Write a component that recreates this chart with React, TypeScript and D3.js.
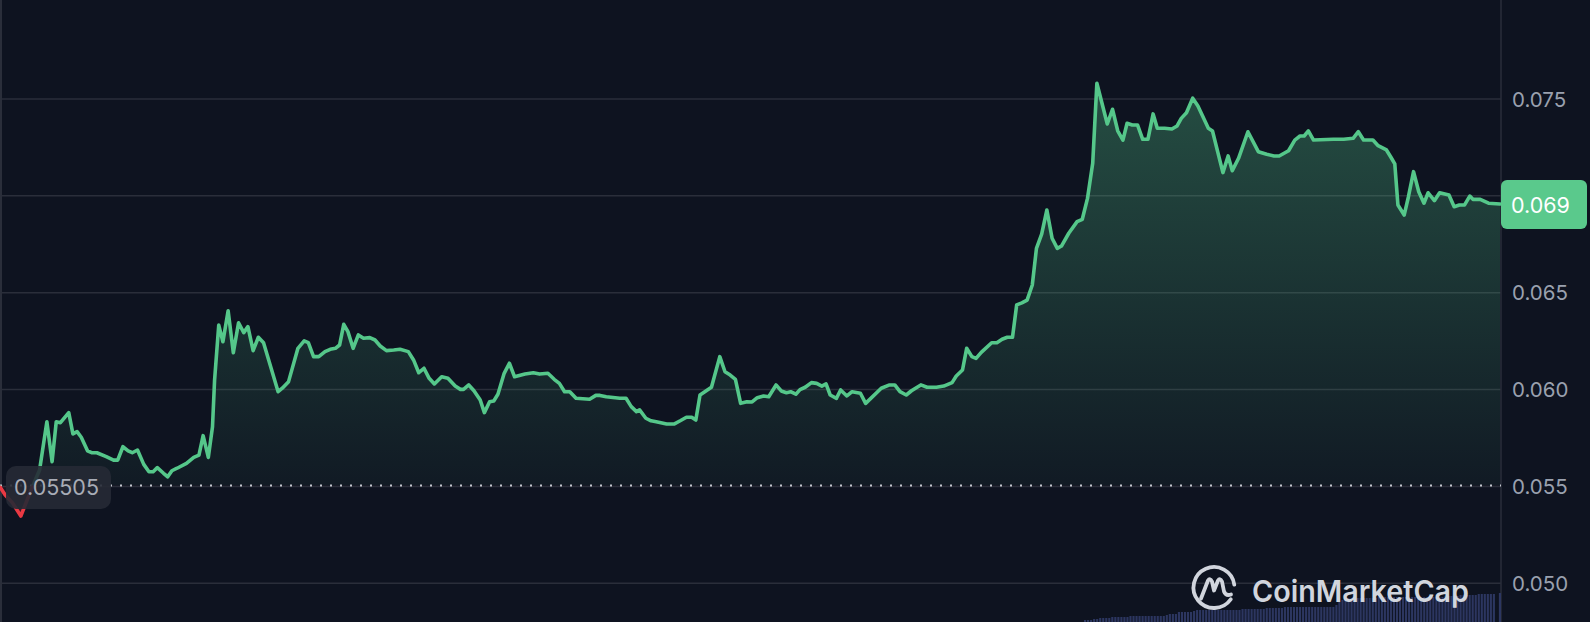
import React from "react";
import * as d3 from "d3";

// time of each sample, minutes since start of the 24h window
const minutes = [
  0, 5, 12, 20, 29, 38, 45, 50, 54, 58, 66, 70, 74, 78, 84, 88, 93, 102, 109, 113,
  118, 123, 127, 132, 138, 143, 147, 151, 157, 161, 165, 170, 179, 186, 191, 195, 200, 204, 206, 210,
  214, 219, 224, 229, 234, 238, 243, 248, 253, 267, 271, 277, 286, 292, 296, 301, 306, 312, 317, 322,
  326, 330, 334, 339, 344, 349, 355, 360, 365, 371, 378, 384, 392, 397, 402, 407, 412, 417, 424, 430,
  437, 442, 445, 450, 455, 461, 465, 470, 474, 478, 484, 489, 494, 504, 512, 518, 526, 532, 537, 542,
  547, 553, 566, 572, 576, 582, 595, 601, 606, 611, 614, 620, 625, 630, 640, 647, 653, 659, 664, 668,
  672, 678, 683, 691, 696, 701, 706, 711, 717, 722, 727, 733, 738, 745, 750, 755, 759, 764, 768, 773,
  779, 784, 789, 793, 797, 803, 807, 813, 818, 826, 831, 846, 854, 859, 864, 870, 875, 884, 890, 899,
  906, 914, 918, 924, 928, 933, 937, 942, 952, 957, 962, 967, 972, 976, 981, 986, 991, 995, 1000, 1005,
  1010, 1015, 1019, 1026, 1034, 1039, 1044, 1049, 1053, 1063, 1068, 1073, 1078, 1082, 1087, 1092, 1097, 1102, 1107, 1111,
  1118, 1125, 1130, 1134, 1139, 1145, 1150, 1160, 1164, 1174, 1179, 1183, 1189, 1198, 1208, 1216, 1223, 1228, 1237, 1243,
  1248, 1252, 1256, 1261, 1280, 1290, 1299, 1304, 1309, 1318, 1323, 1331, 1335, 1339, 1342, 1348, 1352, 1357, 1362, 1367,
  1371, 1377, 1382, 1391, 1396, 1401, 1406, 1411, 1414, 1421, 1429, 1440,
];

const prices = [
  0.05497, 0.05456, 0.05415, 0.05347, 0.05471, 0.05585, 0.05834, 0.05628, 0.05834, 0.05829,
  0.05881, 0.05771, 0.05783, 0.05754, 0.05684, 0.05674, 0.05674, 0.05654, 0.05636, 0.05636,
  0.05705, 0.05684, 0.05674, 0.05688, 0.05614, 0.05576, 0.05576, 0.05597, 0.05568, 0.0555,
  0.05581, 0.05594, 0.05619, 0.0565, 0.05662, 0.05762, 0.0565, 0.05808, 0.06049, 0.06333,
  0.06247, 0.06407, 0.0619, 0.06345, 0.06294, 0.06325, 0.06201, 0.0627, 0.06242, 0.05989,
  0.06007, 0.06041, 0.06213, 0.06251, 0.06242, 0.0617, 0.0617, 0.06196, 0.06208, 0.06213,
  0.0623, 0.06337, 0.06299, 0.06213, 0.06282, 0.06265, 0.06268, 0.06256, 0.06225, 0.06201,
  0.06204, 0.06208, 0.06196, 0.06153, 0.06087, 0.0611, 0.06058, 0.06029, 0.06066, 0.06058,
  0.06018, 0.06001, 0.06001, 0.06024, 0.05994, 0.05946, 0.05881, 0.05937, 0.05941, 0.05976,
  0.06084, 0.06136, 0.06066, 0.0608, 0.06087, 0.0608, 0.06084, 0.06053, 0.06032, 0.05989,
  0.05989, 0.05955, 0.0595, 0.0597, 0.0597, 0.05963, 0.05955, 0.05955, 0.05912, 0.05886,
  0.05895, 0.05852, 0.05839, 0.05834, 0.05822, 0.05822, 0.05839, 0.05857, 0.05857, 0.05843,
  0.05972, 0.05994, 0.06012, 0.0617, 0.06092, 0.06075, 0.06053, 0.05929, 0.05937, 0.05936,
  0.05958, 0.05967, 0.05963, 0.06024, 0.05993, 0.05984, 0.05989, 0.05976, 0.06, 0.06012,
  0.06036, 0.06032, 0.06018, 0.06029, 0.05972, 0.05955, 0.05998, 0.05967, 0.05989, 0.05981,
  0.05929, 0.06007, 0.06024, 0.06024, 0.05989, 0.05972, 0.05994, 0.06024, 0.06012, 0.06012,
  0.06018, 0.06036, 0.0607, 0.06101, 0.06213, 0.0617, 0.06161, 0.06192, 0.06242, 0.06242,
  0.0626, 0.0627, 0.0627, 0.06437, 0.06448, 0.06462, 0.0654, 0.06729, 0.06803, 0.06927,
  0.06781, 0.06729, 0.06741, 0.06807, 0.06867, 0.06879, 0.06987, 0.07168, 0.07581, 0.07371,
  0.07447, 0.07336, 0.07288, 0.07375, 0.07366, 0.07366, 0.07292, 0.07292, 0.07423, 0.07349,
  0.07349, 0.07345, 0.07361, 0.074, 0.07429, 0.07504, 0.07464, 0.07349, 0.07335, 0.0712,
  0.07206, 0.0713, 0.07194, 0.07331, 0.07228, 0.07215, 0.07206, 0.07206, 0.07233, 0.07288,
  0.07309, 0.07309, 0.07335, 0.07288, 0.07292, 0.07292, 0.07297, 0.07331, 0.07288, 0.07288,
  0.07259, 0.07237, 0.07202, 0.07165, 0.06953, 0.06901, 0.06993, 0.07125, 0.07021, 0.06962,
  0.07016, 0.06975, 0.07016, 0.07004, 0.06944, 0.06953, 0.06953, 0.06999, 0.06982, 0.06982,
  0.06962, 0.06958,
];

const baselinePrice = 0.05505;
const baselineLabel = "0.05505";
const lastPriceLabel = "0.069";
const yTicks = [0.05, 0.055, 0.06, 0.065, 0.07, 0.075];
const brandName = "CoinMarketCap";

// trading volume bars (arbitrary units) along the bottom right
const volumes = [
  2, 2, 2, 3, 3,
  4, 4, 4, 4, 5, 5, 5,
  5, 5, 5, 6, 6, 6, 6, 6, 6, 6, 6, 6, 6, 6, 6, 7,
  8, 8, 8,
  10, 10, 10, 10, 10, 11,
  12, 12, 12, 12, 12, 12, 12, 12, 12, 12, 12, 12, 12, 12, 12,
  13, 13, 13, 13, 13, 13, 13, 13,
  14, 14, 14, 14, 14, 14,
  15, 15, 15, 15, 15, 15, 15, 15, 15, 15, 15, 15, 15, 15, 15, 15, 15,
  17, 20, 22,
  24, 24, 24, 24, 24, 24, 24, 24, 24, 24, 24, 25, 25, 25, 25, 25, 25, 25, 25, 25, 25, 25,
  25, 25, 25, 25, 25, 25, 25, 25, 25, 25, 25,
  26, 26, 26, 26, 26, 27, 27, 27, 27, 27, 27, 28, 28, 28, 28, 28, 28,
  0, 29,
];

const W = 1590;
const H = 622;
const plotRight = 1501;
const BG = "#0e1320";
const GRID = "#2a2e3a";
const GREEN = "#55c78a";
const RED = "#ea3943";
const FONT = "Inter, 'Noto Sans', sans-serif";

export default function App() {
  const x = d3.scaleLinear().domain([0, 1440]).range([0, 1500]);
  const y = d3.scaleLinear().domain([0.05, 0.075]).range([583.3, 99]);
  const data = minutes.map((m, i) => ({ m, p: prices[i] }));
  const by = y(baselinePrice);

  const line = d3
    .line<{ m: number; p: number }>()
    .x((d) => x(d.m))
    .y((d) => y(d.p));
  const area = d3
    .area<{ m: number; p: number }>()
    .x((d) => x(d.m))
    .y0(by)
    .y1((d) => y(d.p));

  const vx = d3
    .scaleBand<number>()
    .domain(volumes.map((_, i) => i))
    .range([1084, plotRight])
    .paddingInner(0.3);
  const vy = d3.scaleLinear().domain([0, 30]).range([H, H - 30]);

  const fmt = d3.format(".3f");
  const lastY = y(prices[prices.length - 1]);
  const tagTop = lastY - 24;
  const tagH = 49;
  const linePath = line(data) || "";
  const areaPath = area(data) || "";

  // axis labels hidden behind the last-price tag (as the chart does)
  const visibleTicks = yTicks.filter((t) => Math.abs(y(t) - lastY) > 30);

  // logo geometry
  const lcx = 1214;
  const lcy = 587.5;
  const lr = 20.5;
  const a0 = (35 * Math.PI) / 180;
  const a1 = (-8 * Math.PI) / 180;
  const arcPath = `M${lcx + lr * Math.cos(a0)},${lcy + lr * Math.sin(a0)} A${lr},${lr} 0 1 1 ${
    lcx + lr * Math.cos(a1)
  },${lcy + lr * Math.sin(a1)}`;
  const mPath = `M${lcx - 13},${lcy + 11} L${lcx - 6},${lcy - 7} Q${lcx - 4},${lcy - 10} ${lcx - 2},${
    lcy - 6
  } L${lcx},${lcy + 3} L${lcx + 4},${lcy - 7} Q${lcx + 6},${lcy - 10} ${lcx + 8},${lcy - 6} L${lcx + 10},${
    lcy + 4
  } Q${lcx + 12},${lcy + 9} ${lcx + 17},${lcy + 7}`;

  return (
    <svg
      width={W}
      height={H}
      style={{ position: "fixed", left: 0, top: 0, display: "block", background: BG }}
    >
      <defs>
        <linearGradient id="gFill" gradientUnits="userSpaceOnUse" x1={0} y1={80} x2={0} y2={by}>
          <stop offset="0%" stopColor={GREEN} stopOpacity={0.33} />
          <stop offset="100%" stopColor={GREEN} stopOpacity={0.04} />
        </linearGradient>
        <linearGradient id="rFill" gradientUnits="userSpaceOnUse" x1={0} y1={by} x2={0} y2={by + 40}>
          <stop offset="0%" stopColor={RED} stopOpacity={0.05} />
          <stop offset="100%" stopColor={RED} stopOpacity={0.3} />
        </linearGradient>
        <clipPath id="above">
          <rect x={0} y={0} width={plotRight} height={by} />
        </clipPath>
        <clipPath id="below">
          <rect x={0} y={by} width={plotRight} height={H - by} />
        </clipPath>
      </defs>
      <rect x={0} y={0} width={W} height={H} fill={BG} />

      {/* grid */}
      {yTicks.map((t) => (
        <line key={t} x1={0} x2={plotRight} y1={y(t)} y2={y(t)} stroke={GRID} strokeWidth={1.5} />
      ))}
      <line x1={1} x2={1} y1={0} y2={H} stroke={GRID} strokeWidth={2} />
      <line x1={plotRight} x2={plotRight} y1={0} y2={H} stroke={GRID} strokeWidth={1.5} />

      {/* volume */}
      {volumes.map((v, i) =>
        v > 0 ? (
          <rect
            key={i}
            x={vx(i)}
            y={vy(v)}
            width={vx.bandwidth()}
            height={H - vy(v)}
            fill="#2c3660"
          />
        ) : null
      )}

      {/* areas */}
      <path d={areaPath} fill="url(#gFill)" clipPath="url(#above)" />
      <path d={areaPath} fill="url(#rFill)" clipPath="url(#below)" />

      {/* baseline */}
      <line
        x1={0}
        x2={plotRight}
        y1={by}
        y2={by}
        stroke="#c3c7cf"
        strokeWidth={2}
        strokeDasharray="2 8"
      />

      {/* price line */}
      <path
        d={linePath}
        fill="none"
        stroke={GREEN}
        strokeWidth={3.6}
        strokeLinejoin="round"
        strokeLinecap="round"
        clipPath="url(#above)"
      />
      <path
        d={linePath}
        fill="none"
        stroke={RED}
        strokeWidth={3.6}
        strokeLinejoin="round"
        strokeLinecap="round"
        clipPath="url(#below)"
      />

      {/* logo */}
      <g stroke="#d1d5dd" fill="none" strokeWidth={3.8} strokeLinecap="round" strokeLinejoin="round">
        <path d={arcPath} />
        <path d={mPath} />
      </g>
      <text
        x={1252}
        y={602}
        fontFamily={FONT}
        fontWeight={600}
        fontSize={30}
        fill="#d1d5dd"
        textLength={217}
        lengthAdjust="spacingAndGlyphs"
      >
        {brandName}
      </text>

      {/* y axis labels */}
      {visibleTicks.map((t) => (
        <text
          key={"l" + t}
          x={1512}
          y={y(t)}
          dominantBaseline="central"
          fontFamily={FONT}
          fontSize={20.5}
          fill="#9aa1af"
        >
          {fmt(t)}
        </text>
      ))}

      {/* last price tag */}
      <rect x={plotRight} y={tagTop} width={86} height={tagH} rx={6} fill="#5ac98c" />
      <text
        x={1511}
        y={lastY + 1}
        dominantBaseline="central"
        fontFamily={FONT}
        fontSize={21.5}
        fill="#ffffff"
      >
        {lastPriceLabel}
      </text>

      {/* baseline tag */}
      <rect x={6} y={466} width={105} height={43} rx={10} fill="#262a35" opacity={0.9} />
      <text
        x={14}
        y={by + 2}
        dominantBaseline="central"
        fontFamily={FONT}
        fontSize={21.5}
        fill="#a8acb6"
      >
        {baselineLabel}
      </text>
    </svg>
  );
}
